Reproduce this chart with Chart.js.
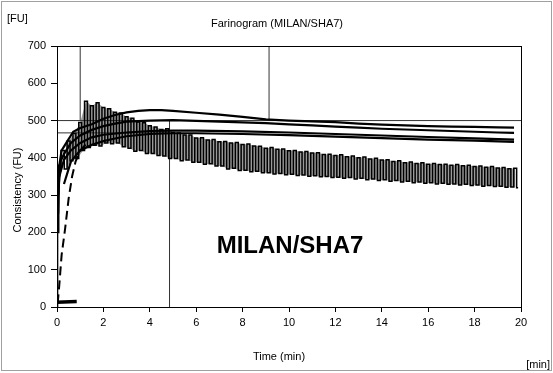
<!DOCTYPE html>
<html><head><meta charset="utf-8">
<script src="https://cdn.jsdelivr.net/npm/chart.js@4"></script>
<style>html,body{margin:0;padding:0;background:#fff}#wrap{width:553px;height:373px}</style>
</head><body><div id="wrap"><canvas id="c" width="553" height="373"></canvas></div>
<script>
// ---- data ----
const xTicks = [0,2,4,6,8,10,12,14,16,18,20];
const yTicks = [0,100,200,300,400,500,600,700];

const tA = [0.05,0.1,0.2,0.4,0.7,1,1.5,2,2.5,3,3.5,4,4.5,5,6,7,8,9,10,11,12,13,14,15,16,17,18,19,19.7];
const vA = [250,380,420,440,470,480,490,505,515,522,526,528,528,526,521,516,510,503,500,498,496,492,489,487,485,484,483,482,481];

const tB = [0.05,0.15,0.3,0.6,1,1.5,2,2.5,3,4,5,6,7,8,9,10,11,12,13,14,15,16,17,18,19,19.7];
const vB = [300,390,410,440,460,475,485,492,497,500,501,499,497,495,493,490,487,484,481,478,476,474,472,470,468,467];

const tC = [0.1,0.3,0.6,1,1.5,2,3,4,5,6,8,10,12,14,16,18,19.7];
const vC = [350,395,420,440,455,462,468,472,473,473,471,468,464,460,456,452,449];

const tD = [0.3,0.6,1,1.5,2,2.5,3,4,5,6,8,10,12,14,16,18,19.7];
const vD = [330,390,420,435,445,452,458,464,466,466,464,461,457,453,449,446,443];

// dashed start-up curve
const tF = [0.03,0.1,0.2,0.35,0.5,0.65,0.8,1.0,1.3];
const vF = [10,60,140,210,290,350,390,420,440];

// empty-mixer segment near zero
const tG = [0,0.85];
const vG = [13,15];

// noisy curve: start, then high/low samples every 0.25 min
const tEstart = [0,0.05,0.1];
const vEstart = [0,200,380];
const eStep = 0.25;
const eHi = [420,445,465,495,552,540,548,535,532,522,
  520,510,506,496,494,486,483,476,478,468,
  467,461,461,453,454,448,449,443,444,440,
  441,436,437,432,431,426,428,423,424,419,
  420,416,417,413,414,409,410,406,408,403,
  405,400,402,397,399,394,395,390,392,387,
  389,385,387,383,385,382,383,380,382,379,
  380,377,378,375,377,373,374,371,372];
const eLo = [370,392,398,420,428,434,432,440,438,440,
  430,426,418,420,412,412,406,405,398,398,
  392,394,388,388,383,384,378,378,370,372,
  366,367,363,364,360,360,357,358,355,356,
  353,354,351,352,349,350,347,348,345,347,
  343,345,341,343,339,341,337,339,335,337,
  333,335,332,333,330,332,329,330,327,329,
  326,327,324,326,323,324,321,322,320];

// marker lines
const markV = [{t:1, from:500, to:700}, {t:4.85, from:0, to:500}, {t:9.14, from:500, to:700}];
const markH = [{v:500, from:0, to:20}, {v:467, from:0, to:4.85}];

// ---- build ----
const pts = (t,v)=>t.map((x,i)=>({x:x,y:v[i]}));
const eData = pts(tEstart, vEstart);
const hiEnv = [], loEnv = [];
const nE = Math.min(eHi.length,eLo.length);
for (let j=0;j<nE;j++){
  const t=(j+1)*eStep;
  eData.push({x:t,y:eHi[j]});
  eData.push({x:t+eStep/2,y:eLo[j]});
  hiEnv.push({x:t,y:eHi[j]});
  loEnv.push({x:t+eStep/2,y:eLo[j]});
}
const datasets = [];
markV.forEach(m=>datasets.push({data:[{x:m.t,y:m.from},{x:m.t,y:m.to}],borderColor:'#333',borderWidth:1,order:5}));
markH.forEach(m=>datasets.push({data:[{x:m.from,y:m.v},{x:m.to,y:m.v}],borderColor:'#333',borderWidth:1,order:5}));
// grey band between envelopes (drawn underneath)
datasets.push({data:hiEnv,borderColor:'rgba(0,0,0,0)',borderWidth:0,order:20});
datasets.push({data:loEnv,borderColor:'rgba(0,0,0,0)',borderWidth:0,fill:'-1',backgroundColor:'#9a9a9a',order:20});
datasets.push({data:eData,borderColor:'#000',borderWidth:1.5,stepped:'middle',order:3});
datasets.push({data:pts(tA,vA),borderColor:'#000',borderWidth:2.2,order:1});
datasets.push({data:pts(tB,vB),borderColor:'#000',borderWidth:2.2,order:1});
datasets.push({data:pts(tC,vC),borderColor:'#000',borderWidth:2.2,order:1});
datasets.push({data:pts(tD,vD),borderColor:'#000',borderWidth:2.2,order:1});
datasets.push({data:pts(tF,vF),borderColor:'#000',borderWidth:2,borderDash:[9,5],order:1});
datasets.push({data:pts(tG,vG),borderColor:'#000',borderWidth:3.5,order:1});

const F = '"Liberation Sans", Arial, sans-serif';
const deco = {
  id:'deco',
  beforeDraw(ch){
    const c=ch.ctx; c.save();
    c.fillStyle='#fff'; c.fillRect(0,0,553,373);
    c.strokeStyle='#a0a0a0'; c.lineWidth=1; c.strokeRect(1.5,1.5,550,369);
    c.restore();
  },
  afterDraw(ch){
    const c=ch.ctx, a=ch.chartArea; c.save();
    c.strokeStyle='#000'; c.lineWidth=1;
    c.strokeRect(Math.round(a.left)+0.5,Math.round(a.top)+0.5,Math.round(a.right-a.left),Math.round(a.bottom-a.top));
    c.fillStyle='#000';
    c.font='11px '+F; c.textBaseline='middle';
    c.textAlign='left'; c.fillText('[FU]',7,19);
    c.textAlign='center'; c.fillText('Farinogram (MILAN/SHA7)',277,24);
    c.fillText('Time (min)',279,357);
    c.textAlign='right'; c.fillText('[min]',550,365);
    c.save(); c.translate(18,190); c.rotate(-Math.PI/2); c.textAlign='center'; c.fillText('Consistency (FU)',0,0); c.restore();
    c.font='bold 24px '+F; c.textAlign='center'; c.fillText('MILAN/SHA7',290,246);
    c.restore();
  }
};

new Chart(document.getElementById('c'),{
  type:'line',
  data:{datasets},
  options:{
    responsive:false, animation:false,
    layout:{padding:{top:46,right:32,left:0,bottom:0}},
    elements:{point:{radius:0},line:{tension:0}},
    plugins:{legend:{display:false},tooltip:{enabled:false},filler:{propagate:false}},
    scales:{
      x:{type:'linear',min:0,max:20,
        afterBuildTicks:s=>{s.ticks=xTicks.map(v=>({value:v}));},
        afterFit:s=>{s.height=66;},
        grid:{drawOnChartArea:false,drawTicks:true,tickLength:5,color:'#000'},
        border:{display:true,color:'#000'},
        ticks:{color:'#000',font:{family:F,size:11},padding:4,maxRotation:0}},
      y:{type:'linear',min:0,max:700,
        afterBuildTicks:s=>{s.ticks=yTicks.map(v=>({value:v}));},
        afterFit:s=>{s.width=57;},
        grid:{drawOnChartArea:false,drawTicks:true,tickLength:6,color:'#000'},
        border:{display:true,color:'#000'},
        ticks:{color:'#000',font:{family:F,size:11},padding:5}}
    }
  },
  plugins:[deco]
});
</script></body></html>
